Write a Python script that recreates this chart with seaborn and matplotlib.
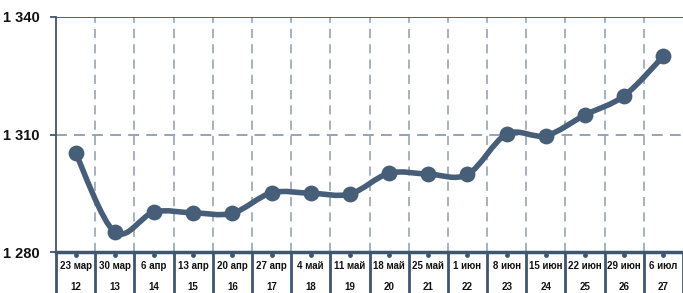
import numpy as np
import matplotlib
matplotlib.use("Agg")
import matplotlib.pyplot as plt
from matplotlib.path import Path
from matplotlib.patches import PathPatch
import matplotlib.transforms as mtransforms
import seaborn as sns

# ─── Data ─────────────────────────────────────────────────────────────────────
dates = ["23 мар", "30 мар", "6 апр", "13 апр", "20 апр", "27 апр", "4 май", "11 май",
         "18 май", "25 май", "1 июн", "8 июн", "15 июн", "22 июн", "29 июн", "6 июл"]
weeks = ["12", "13", "14", "15", "16", "17", "18", "19",
         "20", "21", "22", "23", "24", "25", "26", "27"]
values = [1305.3, 1285.1, 1290.2, 1290.0, 1289.9, 1295.1, 1295.0, 1294.8,
          1300.1, 1299.9, 1299.8, 1310.1, 1309.7, 1315.0, 1319.9, 1330.0]
yticks = [1280, 1310, 1340]
ytick_labels = ["1 280", "1 310", "1 340"]

LINE = "#465e78"
DARK = "#3f566e"
GRID = "#8d9cab"

sns.set_theme(style="white")
plt.rcParams["font.family"] = ["Liberation Sans", "DejaVu Sans"]

fig = plt.figure(figsize=(6.83, 2.93), dpi=100)
ax = fig.add_axes([56 / 683, 1 - 252 / 293, 1 - 56 / 683, 235 / 293])

n = len(values)
x = np.arange(n)
ax.set_xlim(-0.5, n - 0.5)
ax.set_ylim(1280, 1340)

# grid: vertical dashed separators between weeks, horizontal dashed at middle tick
for b in np.arange(0.5, n - 0.5, 1.0):
    ax.axvline(b, color=GRID, lw=1.1, ls=(0, (6, 4)), zorder=1)
ax.axhline(1310, color=GRID, lw=1.3, ls=(0, (6, 4)), zorder=1)
ax.axhline(1340, color=DARK, lw=1.3, zorder=1)

# smooth line (Catmull-Rom as cubic Bezier segments)
pts = np.column_stack([x, values]).astype(float)
verts = [tuple(pts[0])]
codes = [Path.MOVETO]
for i in range(n - 1):
    p0 = pts[max(i - 1, 0)]
    p1 = pts[i]
    p2 = pts[i + 1]
    p3 = pts[min(i + 2, n - 1)]
    c1 = p1 + (p2 - p0) / 6
    c2 = p2 - (p3 - p1) / 6
    verts += [tuple(c1), tuple(c2), tuple(p2)]
    codes += [Path.CURVE4] * 3
ax.add_patch(PathPatch(Path(verts, codes), fill=False, edgecolor=LINE, lw=4,
                       capstyle="round", joinstyle="round", zorder=3))
sns.scatterplot(x=x, y=values, ax=ax, s=130, color=LINE, edgecolor=LINE,
                linewidth=0, zorder=4, clip_on=False)

# axes styling
for side in ["top", "right"]:
    ax.spines[side].set_visible(False)
ax.spines["left"].set_color(DARK)
ax.spines["left"].set_linewidth(1.3)
ax.spines["bottom"].set_color(DARK)
ax.spines["bottom"].set_linewidth(2.5)

ax.set_yticks(yticks)
ax.set_yticklabels(ytick_labels, fontsize=10.5, fontweight="bold", color="#111111")
ax.tick_params(axis="y", length=4, width=1.3, color=DARK, pad=8, left=True)
ax.set_xticks([])

# table under the axis
trans = mtransforms.blended_transform_factory(ax.transData, ax.transAxes)
px = 1 / 235
ax.scatter(x, [-3 * px] * n, transform=trans, s=6, color=DARK, clip_on=False, zorder=5)
for b in np.arange(-0.5, n, 1.0):
    ax.plot([b, b], [0, -41 * px], transform=trans, color=DARK, lw=2,
            clip_on=False, zorder=5)
for xi, d, w in zip(x, dates, weeks):
    ax.text(xi, -14 * px, d, transform=trans, ha="center", va="center",
            fontsize=7, fontweight="bold", color="#111111")
    ax.text(xi, -35 * px, w, transform=trans, ha="center", va="center",
            fontsize=7, fontweight="bold", color="#111111")

fig.savefig("out.png", dpi=100)
